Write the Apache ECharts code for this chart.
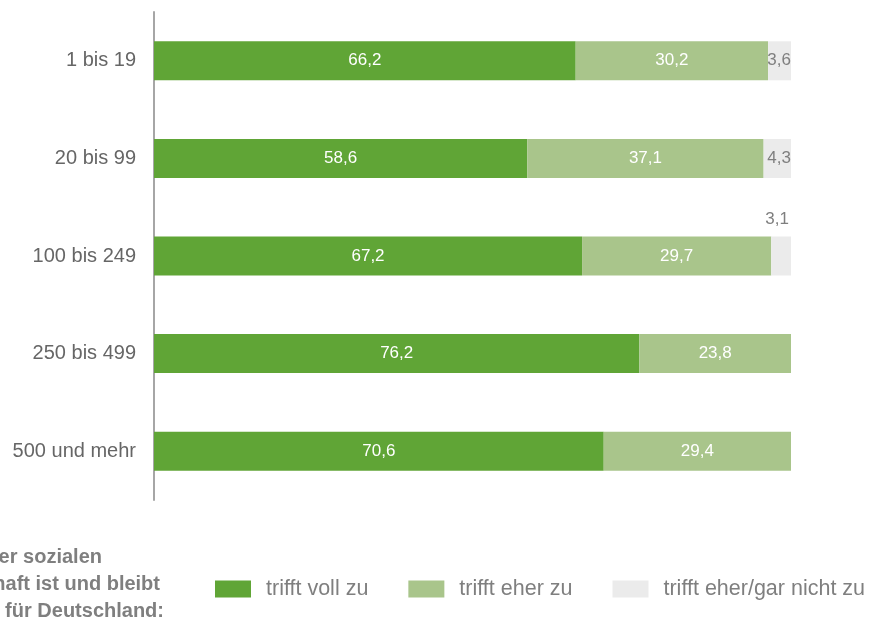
<!DOCTYPE html>
<html>
<head>
<meta charset="utf-8">
<script src="https://cdn.jsdelivr.net/npm/echarts@6/dist/echarts.min.js"></script>
<style>
html,body{margin:0;padding:0;background:#fff;}
#chart{width:871px;height:622px;}
</style>
</head>
<body>
<div id="chart"></div>
<script>
var categories = ['1 bis 19', '20 bis 99', '100 bis 249', '250 bis 499', '500 und mehr'];
var seriesNames = ['trifft voll zu', 'trifft eher zu', 'trifft eher/gar nicht zu'];
var vollZu = [66.2, 58.6, 67.2, 76.2, 70.6];
var eherZu = [30.2, 37.1, 29.7, 23.8, 29.4];
var nichtZu = [3.6, 4.3, 3.1, null, null];
var sideLines = ['der sozialen', 'schaft ist und bleibt', 'für Deutschland:'];

var FONT = '"Liberation Sans", Arial, sans-serif';
var colors = ['#60a536', '#a9c58b', '#ebebeb'];

function fmt(p) {
  if (p.value == null) return '';
  return p.value.toFixed(1).replace('.', ',');
}

var nichtData = nichtZu.map(function (v, i) {
  if (categories[i] === '100 bis 249') {
    return { value: v, label: { position: 'top', distance: 9, offset: [-4, 0] } };
  }
  return v;
});

var chart = echarts.init(document.getElementById('chart'), null, { renderer: 'canvas' });
chart.setOption({
  animation: false,
  backgroundColor: '#ffffff',
  grid: { left: 154, right: 80, top: 12, bottom: 122, containLabel: false },
  xAxis: {
    type: 'value', min: 0, max: 100,
    show: false
  },
  yAxis: {
    type: 'category',
    data: categories,
    inverse: true,
    axisLine: { show: true, lineStyle: { color: '#a6a6a6', width: 2 } },
    axisTick: { show: false },
    axisLabel: { color: '#666666', fontSize: 20, fontFamily: FONT, margin: 18 },
    splitLine: { show: false }
  },
  legend: {
    left: 210, top: 573,
    itemWidth: 36, itemHeight: 17, itemGap: 40,
    icon: 'rect',
    selectedMode: false,
    textStyle: { color: '#7f7f7f', fontSize: 21.5, fontFamily: FONT, padding: [0, 0, 0, 10] },
    data: seriesNames
  },
  series: [
    {
      name: seriesNames[0], type: 'bar', stack: 'a', barWidth: 39,
      data: vollZu,
      itemStyle: { color: colors[0] },
      label: { show: true, position: 'inside', color: '#ffffff', fontSize: 17, fontFamily: FONT, formatter: fmt }
    },
    {
      name: seriesNames[1], type: 'bar', stack: 'a', barWidth: 39,
      data: eherZu,
      itemStyle: { color: colors[1] },
      label: { show: true, position: 'inside', color: '#ffffff', fontSize: 17, fontFamily: FONT, formatter: fmt }
    },
    {
      name: seriesNames[2], type: 'bar', stack: 'a', barWidth: 39,
      data: nichtData,
      itemStyle: { color: colors[2] },
      label: { show: true, position: 'insideRight', distance: 0, color: '#7f7f7f', fontSize: 17, fontFamily: FONT, formatter: fmt }
    }
  ],
  graphic: sideLines.map(function (t, i) {
    var ends = [102, 160, 164];
    return {
      type: 'text',
      right: 871 - ends[i],
      top: 547 + i * 27,
      style: { text: t, fill: '#7f7f7f', font: 'bold 20px ' + FONT, textAlign: 'right' }
    };
  })
});
</script>
</body>
</html>
